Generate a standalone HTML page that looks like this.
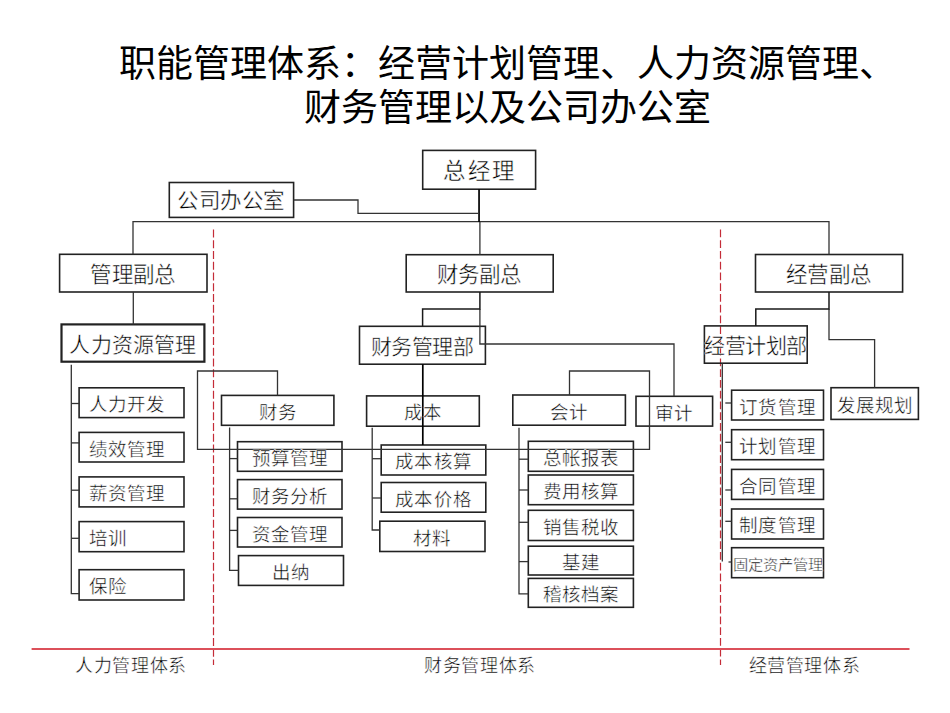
<!DOCTYPE html>
<html lang="zh-CN"><head><meta charset="utf-8"><style>
html,body{margin:0;padding:0;background:#fff;width:950px;height:713px;overflow:hidden}
svg{display:block}
text{font-family:"Liberation Serif",serif;fill:#000}
.bx{stroke:#fff;stroke-width:0.45px}
.t{font-family:"Liberation Sans",sans-serif}
</style></head><body>
<svg width="950" height="713" viewBox="0 0 950 713">

<text class="t" x="507" y="77" font-size="37" text-anchor="middle">职能管理体系：经营计划管理、人力资源管理、</text>
<text class="t" x="507" y="120.5" font-size="37" text-anchor="middle">财务管理以及公司办公室</text>
<line x1="213.5" y1="229.6" x2="213.5" y2="665" stroke="#c42c38" stroke-width="1.2" stroke-dasharray="7.9 2.85"/>
<line x1="720.5" y1="229.4" x2="720.5" y2="665" stroke="#c42c38" stroke-width="1.2" stroke-dasharray="7.9 2.85"/>
<line x1="31.6" y1="649" x2="909.5" y2="649" stroke="#dc505a" stroke-width="1.9"/>
<g fill="none" stroke="#222" stroke-width="1.6">
<rect x="422.7" y="150.4" width="112.9" height="38.8" stroke-width="1.6"/>
<rect x="169.3" y="182.5" width="124.3" height="34.9" stroke-width="1.6"/>
<rect x="59.6" y="254.3" width="147.4" height="37.7" stroke-width="1.6"/>
<rect x="406.2" y="254.7" width="147.0" height="37.3" stroke-width="1.6"/>
<rect x="755.5" y="254.5" width="147.1" height="37.5" stroke-width="1.6"/>
<rect x="61.5" y="324.4" width="142.9" height="37.3" stroke-width="2.2"/>
<rect x="359.5" y="326.3" width="125.9" height="37.9" stroke-width="1.6"/>
<rect x="704.4" y="325.9" width="102.8" height="37.3" stroke-width="1.6"/>
<rect x="79.1" y="387.8" width="104.9" height="29.8" stroke-width="1.6"/>
<rect x="79.1" y="432.4" width="104.9" height="29.6" stroke-width="1.6"/>
<rect x="79.1" y="476.9" width="104.9" height="30.0" stroke-width="1.6"/>
<rect x="79.1" y="521.6" width="104.9" height="30.1" stroke-width="1.6"/>
<rect x="79.1" y="569.7" width="104.9" height="30.3" stroke-width="1.6"/>
<rect x="221.5" y="395.4" width="112.4" height="29.9" stroke-width="1.6"/>
<rect x="237.5" y="441.7" width="104.5" height="29.6" stroke-width="1.6"/>
<rect x="237.5" y="479.6" width="104.5" height="29.5" stroke-width="1.6"/>
<rect x="237.5" y="517.5" width="104.5" height="29.5" stroke-width="1.6"/>
<rect x="238.5" y="555.6" width="105.0" height="29.8" stroke-width="1.6"/>
<rect x="366.6" y="395.9" width="112.7" height="30.3" stroke-width="1.6"/>
<rect x="381.2" y="445" width="104.6" height="30.0" stroke-width="1.6"/>
<rect x="381.2" y="482.5" width="104.6" height="29.7" stroke-width="1.6"/>
<rect x="379.8" y="521.2" width="105.2" height="30.3" stroke-width="1.6"/>
<rect x="512.8" y="395" width="112.6" height="30.2" stroke-width="1.6"/>
<rect x="636" y="396.3" width="76.6" height="29.8" stroke-width="1.6"/>
<rect x="528.3" y="441.3" width="105.1" height="30.0" stroke-width="1.6"/>
<rect x="528.3" y="475" width="105.1" height="29.7" stroke-width="1.6"/>
<rect x="528.3" y="510.3" width="105.1" height="30.2" stroke-width="1.6"/>
<rect x="528.3" y="546.2" width="105.1" height="28.8" stroke-width="1.6"/>
<rect x="528.3" y="578.4" width="105.1" height="28.9" stroke-width="1.6"/>
<rect x="731.6" y="390.2" width="91.9" height="29.8" stroke-width="1.6"/>
<rect x="731.6" y="429.7" width="91.9" height="30.0" stroke-width="1.6"/>
<rect x="731.6" y="469.4" width="91.9" height="30.0" stroke-width="1.6"/>
<rect x="731.6" y="509" width="91.9" height="30.0" stroke-width="1.6"/>
<rect x="731.6" y="547.7" width="91.9" height="30.0" stroke-width="1.6"/>
<rect x="831" y="387.7" width="87.4" height="31.7" stroke-width="1.6"/>
</g>
<g fill="none" stroke="#333" stroke-width="1.3">
<polyline points="293.6,200 358,200 358,213.3 478,213.3"/>
<polyline points="133,254.3 133,221.6 829,221.6 829,254.5"/>
<polyline points="479.9,221.6 479.9,254.7"/>
<polyline points="133.3,292 133.3,324.4"/>
<polyline points="479.9,309 479.9,344 674,344 674,396.3"/>
<polyline points="277.5,395.4 277.5,371 197.5,371 197.5,449.3 649.5,449.3 649.5,371 569.5,371 569.5,395"/>
<polyline points="71.3,364.7 71.3,593.7 79.1,593.7"/>
<polyline points="71.3,403.5 79.1,403.5"/>
<polyline points="71.3,442.9 79.1,442.9"/>
<polyline points="71.3,490.2 79.1,490.2"/>
<polyline points="71.3,538.3 79.1,538.3"/>
<polyline points="229.6,427.6 229.6,570.3 238.5,570.3"/>
<polyline points="229.6,458.6 237.5,458.6"/>
<polyline points="229.6,498.8 237.5,498.8"/>
<polyline points="229.6,530.4 237.5,530.4"/>
<polyline points="372.2,427.8 372.2,530 379.8,530"/>
<polyline points="372.2,458.7 381.2,458.7"/>
<polyline points="372.2,498 381.2,498"/>
<polyline points="519,427.8 519,593.8 528.3,593.8"/>
<polyline points="519,459.2 528.3,459.2"/>
<polyline points="519,490 528.3,490"/>
<polyline points="519,522.3 528.3,522.3"/>
<polyline points="519,561.6 528.3,561.6"/>
<polyline points="829,309 829,339.7 874.6,339.7 874.6,387.7"/>
<polyline points="722.3,363.2 722.3,561.5"/>
<polyline points="725.3,403 731.6,403"/>
<polyline points="725.3,442.3 731.6,442.3"/>
<polyline points="725.3,490 731.6,490"/>
<polyline points="725.3,521.3 731.6,521.3"/>
<polyline points="728.5,562 731.6,562"/>
</g>
<g fill="none" stroke="#1a1a1a" stroke-width="1.5">
<polyline points="479.9,292 479.9,309 422.6,309 422.6,326.3"/>
<polyline points="829,292 829,309 755.8,309 755.8,325.9"/>
</g>
<g fill="none" stroke="#000" stroke-width="1.7">
<polyline points="479.05,189.2 479.05,222"/>
<polyline points="422.8,364.2 422.8,445"/>
</g>
<text class="bx" x="480.0" y="171.3" font-size="22.5" letter-spacing="1.7" text-anchor="middle" dominant-baseline="central">总经理</text>
<text class="bx" x="231.2" y="201.4" font-size="21.5" letter-spacing="-0.5" text-anchor="middle" dominant-baseline="central">公司办公室</text>
<text class="bx" x="132.9" y="274.9" font-size="21.5" letter-spacing="-0.8" text-anchor="middle" dominant-baseline="central">管理副总</text>
<text class="bx" x="479.3" y="275.2" font-size="21.5" letter-spacing="-0.8" text-anchor="middle" dominant-baseline="central">财务副总</text>
<text class="bx" x="828.6" y="275.1" font-size="21.5" letter-spacing="-0.8" text-anchor="middle" dominant-baseline="central">经营副总</text>
<text class="bx" x="133.0" y="344.5" font-size="21" letter-spacing="0.2" text-anchor="middle" dominant-baseline="central">人力资源管理</text>
<text class="bx" x="422.2" y="347.1" font-size="21" letter-spacing="-0.5" text-anchor="middle" dominant-baseline="central">财务管理部</text>
<text class="bx" x="755.5" y="346.3" font-size="21" letter-spacing="-0.5" text-anchor="middle" dominant-baseline="central">经营计划部</text>
<text class="bx" x="88.5" y="405.1" font-size="18.5" letter-spacing="0.1" dominant-baseline="central">人力开发</text>
<text class="bx" x="88.5" y="449.6" font-size="18.5" letter-spacing="0.1" dominant-baseline="central">绩效管理</text>
<text class="bx" x="88.5" y="494.3" font-size="18.5" letter-spacing="0.1" dominant-baseline="central">薪资管理</text>
<text class="bx" x="88.5" y="539.1" font-size="18.5" letter-spacing="0.1" dominant-baseline="central">培训</text>
<text class="bx" x="88.5" y="587.2" font-size="18.5" letter-spacing="0.1" dominant-baseline="central">保险</text>
<text class="bx" x="277.8" y="412.8" font-size="18.5" letter-spacing="0.1" text-anchor="middle" dominant-baseline="central">财务</text>
<text class="bx" x="289.8" y="458.9" font-size="18.5" letter-spacing="0.1" text-anchor="middle" dominant-baseline="central">预算管理</text>
<text class="bx" x="289.8" y="496.8" font-size="18.5" letter-spacing="0.1" text-anchor="middle" dominant-baseline="central">财务分析</text>
<text class="bx" x="289.8" y="534.6" font-size="18.5" letter-spacing="0.1" text-anchor="middle" dominant-baseline="central">资金管理</text>
<text class="bx" x="291.1" y="572.9" font-size="18.5" letter-spacing="0.1" text-anchor="middle" dominant-baseline="central">出纳</text>
<text class="bx" x="423.0" y="413.4" font-size="18.5" letter-spacing="0.1" text-anchor="middle" dominant-baseline="central">成本</text>
<text class="bx" x="433.6" y="462.4" font-size="18.5" letter-spacing="0.1" text-anchor="middle" dominant-baseline="central">成本核算</text>
<text class="bx" x="433.6" y="499.8" font-size="18.5" letter-spacing="0.1" text-anchor="middle" dominant-baseline="central">成本价格</text>
<text class="bx" x="432.4" y="538.8" font-size="18.5" letter-spacing="0.1" text-anchor="middle" dominant-baseline="central">材料</text>
<text class="bx" x="569.1" y="412.5" font-size="18.5" letter-spacing="0.1" text-anchor="middle" dominant-baseline="central">会计</text>
<text class="bx" x="674.3" y="413.6" font-size="18.5" letter-spacing="0.1" text-anchor="middle" dominant-baseline="central">审计</text>
<text class="bx" x="580.9" y="458.7" font-size="18.5" letter-spacing="0.1" text-anchor="middle" dominant-baseline="central">总帐报表</text>
<text class="bx" x="580.9" y="492.2" font-size="18.5" letter-spacing="0.1" text-anchor="middle" dominant-baseline="central">费用核算</text>
<text class="bx" x="580.9" y="527.8" font-size="18.5" letter-spacing="0.1" text-anchor="middle" dominant-baseline="central">销售税收</text>
<text class="bx" x="580.9" y="563.0" font-size="18.5" letter-spacing="0.1" text-anchor="middle" dominant-baseline="central">基建</text>
<text class="bx" x="580.9" y="595.2" font-size="18.5" letter-spacing="0.1" text-anchor="middle" dominant-baseline="central">稽核档案</text>
<text class="bx" x="777.6" y="407.5" font-size="18.5" letter-spacing="0.1" text-anchor="middle" dominant-baseline="central">订货管理</text>
<text class="bx" x="777.6" y="447.1" font-size="18.5" letter-spacing="0.1" text-anchor="middle" dominant-baseline="central">计划管理</text>
<text class="bx" x="777.6" y="486.8" font-size="18.5" letter-spacing="0.1" text-anchor="middle" dominant-baseline="central">合同管理</text>
<text class="bx" x="777.6" y="526.4" font-size="18.5" letter-spacing="0.1" text-anchor="middle" dominant-baseline="central">制度管理</text>
<text class="bx" x="777.5" y="564.3" font-size="15.25" letter-spacing="0" text-anchor="middle" dominant-baseline="central">固定资产管理</text>
<text class="bx" x="874.8" y="405.9" font-size="18.5" letter-spacing="0.1" text-anchor="middle" dominant-baseline="central">发展规划</text>
<text class="bx" x="75" y="666.3" font-size="18" letter-spacing="0.65" dominant-baseline="central">人力管理体系</text>
<text class="bx" x="424" y="666.3" font-size="18" letter-spacing="0.65" dominant-baseline="central">财务管理体系</text>
<text class="bx" x="748.5" y="666.3" font-size="18" letter-spacing="0.65" dominant-baseline="central">经营管理体系</text>
</svg></body></html>
